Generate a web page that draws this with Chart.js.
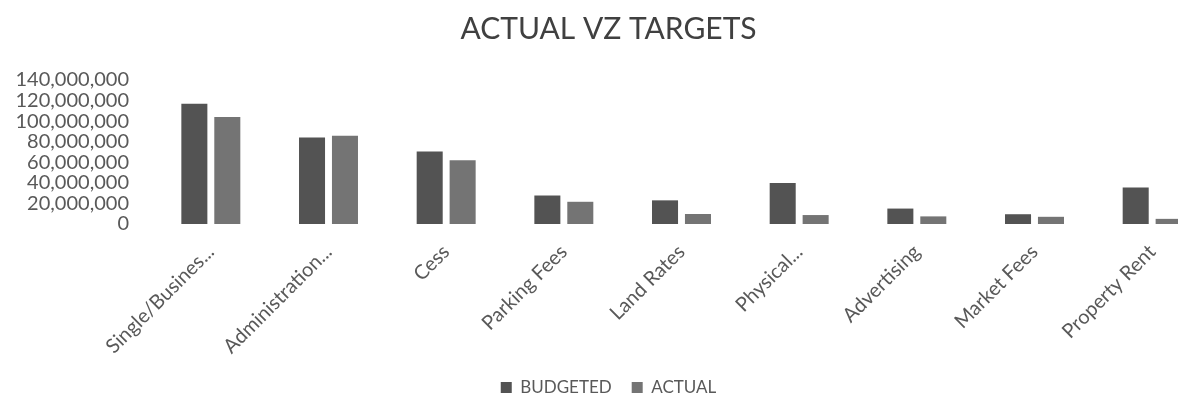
<!DOCTYPE html>
<html>
<head>
<meta charset="utf-8">
<script src="https://cdn.jsdelivr.net/npm/chart.js@4/dist/chart.umd.min.js"></script>
<style>
  html, body { margin: 0; padding: 0; background: #fff; overflow: hidden; }
  #wrap { width: 1234px; height: 406px; }
</style>
</head>
<body>
<div id="wrap"><canvas id="vz-chart" width="1234" height="406"></canvas></div>
<script>
const categories = ['Single/Busines...', 'Administration...', 'Cess', 'Parking Fees', 'Land Rates',
    'Physical...', 'Advertising', 'Market Fees', 'Property Rent'];
const budgeted = [117000000, 84000000, 70500000, 27700000, 23000000, 39800000, 15000000, 9500000, 35400000];
const actual = [104000000, 85700000, 62000000, 21600000, 9700000, 8700000, 7400000, 7000000, 5000000];
const yTicks = [0, 20000000, 40000000, 60000000, 80000000, 100000000, 120000000, 140000000];

const textColor = '#595959';
const fontFamily = 'Lato, "Open Sans", sans-serif';

// the right end of the plot runs past the window, like the cropped original
const vzChart = new Chart(document.getElementById('vz-chart').getContext('2d'), {
    type: 'bar',
    data: {
        labels: categories,
        datasets: [{
            label: 'BUDGETED',
            data: budgeted,
            backgroundColor: '#535353',
            categoryPercentage: 0.56,
            barPercentage: 0.79
        }, {
            label: 'ACTUAL',
            data: actual,
            backgroundColor: '#747474',
            categoryPercentage: 0.56,
            barPercentage: 0.79
        }]
    },
    options: {
        responsive: false,
        animation: false,
        layout: {
            padding: { left: 6, right: 23, top: 11, bottom: 0 }
        },
        plugins: {
            title: {
                display: true,
                text: 'ACTUAL VZ TARGETS',
                color: '#404040',
                font: { family: fontFamily, size: 30, weight: 'normal' },
                padding: { top: 0, bottom: 33 }
            },
            legend: {
                position: 'bottom',
                labels: {
                    color: textColor,
                    font: { family: fontFamily, size: 17 },
                    boxWidth: 11,
                    boxHeight: 11,
                    padding: 20
                }
            },
            tooltip: { enabled: false }
        },
        scales: {
            x: {
                grid: { display: false },
                border: { display: false },
                afterFit: axis => { axis.height = 135; },
                ticks: {
                    color: textColor,
                    font: { family: fontFamily, size: 20 },
                    padding: 8,
                    minRotation: 45,
                    maxRotation: 45,
                    autoSkip: false
                }
            },
            y: {
                min: 0,
                max: 140000000,
                grid: { display: false },
                border: { display: false },
                afterBuildTicks: axis => {
                    axis.ticks = yTicks.map(v => ({ value: v }));
                },
                afterFit: axis => { axis.width = 146; },
                ticks: {
                    color: textColor,
                    font: { family: fontFamily, size: 20, lineHeight: 1 },
                    padding: 15,
                    autoSkip: false,
                    callback: value => value.toLocaleString('en-US')
                }
            }
        }
    }
});
</script>
</body>
</html>
